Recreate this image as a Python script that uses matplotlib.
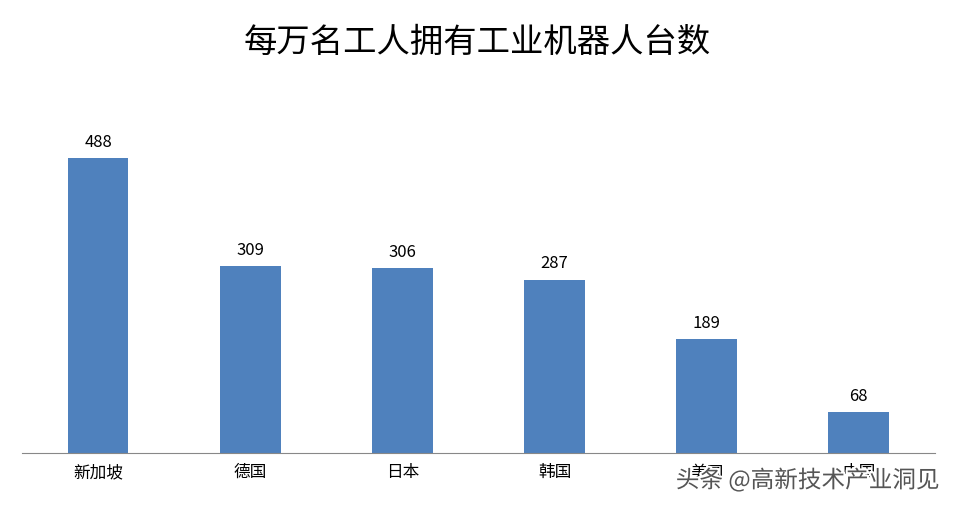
import matplotlib
matplotlib.use("Agg")
import matplotlib.pyplot as plt
import matplotlib.patheffects as pe

plt.rcParams['font.family'] = ['Noto Sans CJK SC', 'DejaVu Sans']

countries = ['新加坡', '德国', '日本', '韩国', '美国', '中国']
robots = [488, 309, 306, 287, 189, 68]

fig = plt.figure(figsize=(9.54, 5.08), dpi=100)
ax = fig.add_axes([0.023, 0.108, 0.957, 0.666])

x = range(len(countries))
ax.bar(x, robots, width=0.4, color='#4F81BD')
for i, v in zip(x, robots):
    ax.text(i, v + 12, str(v), ha='center', va='bottom', fontsize=12)

ax.set_xlim(-0.5, len(countries) - 0.5)
ax.set_ylim(0, 560)
ax.set_xticks(list(x))
ax.set_xticklabels(countries, fontsize=12)
ax.tick_params(axis='x', length=0, pad=8)
ax.set_yticks([])
for s in ['top', 'right', 'left']:
    ax.spines[s].set_visible(False)
ax.spines['bottom'].set_color('#888888')

fig.text(0.5, 0.917, '每万名工人拥有工业机器人台数', ha='center', va='center',
         fontsize=24, fontweight='medium')

# watermark as in the source image
fig.text(0.985, 0.055, '头条 @高新技术产业洞见', ha='right', va='center',
         fontsize=17, color='#555555',
         path_effects=[pe.withStroke(linewidth=3, foreground='white')])

fig.savefig('out.png', dpi=100)
